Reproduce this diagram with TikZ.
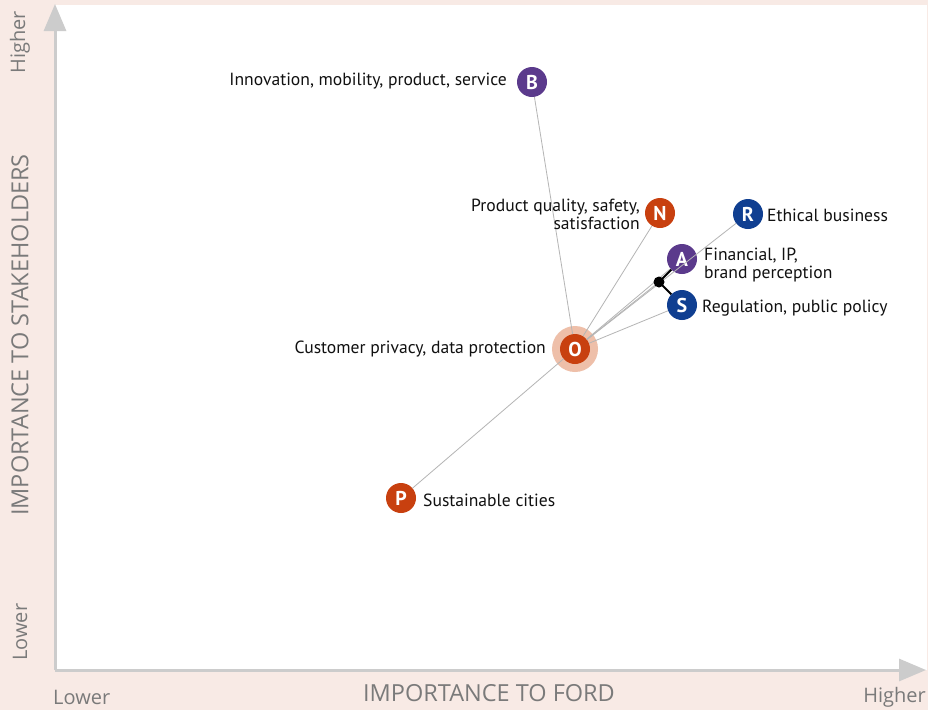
\documentclass[tikz,border=0pt]{standalone}
\usepackage{fontspec}
\setmainfont{PT Sans}
\newfontfamily\axisfont{Open Sans}
\usetikzlibrary{arrows.meta}
\definecolor{bgpink}{HTML}{F8EAE5}
\definecolor{axisgray}{HTML}{CCCCCC}
\definecolor{linegray}{HTML}{B5B5B5}
\definecolor{fpurple}{HTML}{5B3A8C}
\definecolor{fblue}{HTML}{103F91}
\definecolor{forange}{HTML}{C8400F}
\definecolor{fhalo}{HTML}{EEBFA9}
\definecolor{axtext}{HTML}{7A7A7A}
\definecolor{lbltext}{HTML}{111111}
\tikzset{
  dot/.style={circle,minimum size=30pt,inner sep=0pt,text=white,font=\fontsize{20}{20}\selectfont\bfseries},
  pdot/.style={dot,fill=fpurple},
  bdot/.style={dot,fill=fblue},
  odot/.style={dot,fill=forange},
  lbl/.style={text=lbltext,font=\fontsize{17.6}{18}\selectfont,inner sep=0pt},
  axlbl/.style={text=axtext,font=\axisfont\fontsize{20}{20}\selectfont,inner sep=0pt},
  axtitle/.style={text=axtext,font=\axisfont\fontsize{23.5}{24}\selectfont,inner sep=0pt},
  axline/.style={draw=axisgray,line width=3pt,-{Triangle[width=22pt,length=27pt]}},
  conn/.style={draw=linegray,line width=0.8pt},
  jconn/.style={draw=black,line width=1.8pt}
}
\begin{document}
\begin{tikzpicture}[x=1pt,y=-1pt]
\fill[bgpink] (0,0) rectangle (928,710);
\fill[white] (55,5) rectangle (927,670);
\useasboundingbox (0,0) rectangle (928,710);
% axes
\coordinate (orig) at (55,670);
\coordinate (ytip) at (55,4);
\coordinate (xtip) at (926,670);
\draw[axline] (orig) -- (ytip);
\draw[axline] (orig) -- (xtip);
% axis labels
\node[axtitle] (xtitle) at (489,693) {IMPORTANCE TO FORD};
\node[axlbl,anchor=west] (xlow) at (53,697) {Lower};
\node[axlbl,anchor=east] (xhigh) at (926,697) {Higher};
\node[axtitle,rotate=90] (ytitle) at (20,335) {IMPORTANCE TO STAKEHOLDERS};
\node[axlbl,rotate=90,anchor=east] (yhigh) at (20,11) {Higher};
\node[axlbl,rotate=90,anchor=west] (ylow) at (20,661) {Lower};
% halo
\fill[fhalo] (575,349) circle (23);
% nodes
\node[odot] (O) at (575,349) {O};
\node[pdot] (B) at (532,82) {B};
\node[odot] (N) at (660,213) {N};
\node[bdot] (R) at (748,214) {R};
\node[pdot] (A) at (682,259) {A};
\node[bdot] (S) at (682,305) {S};
\node[odot] (P) at (401,498) {P};
\coordinate (J) at (659,282);
% connectors
\draw[conn] (O) -- (B);
\draw[conn] (O) -- (N);
\draw[conn] (O) -- (R);
\draw[conn] (O) -- (A);
\draw[conn] (O) -- (J);
\draw[conn] (O) -- (S);
\draw[conn] (O) -- (P);
\draw[jconn] (J) -- (A);
\draw[jconn] (J) -- (S);
\fill[black] (J) circle (5.5);
% labels
\node[lbl,anchor=east] (lB) at (507,81.5) {Innovation, mobility, product, service};
\node[lbl,anchor=east,align=right] (lN) at (640,214) {Product quality, safety,\\satisfaction};
\node[lbl,anchor=west] (lR) at (767,215) {Ethical business};
\node[lbl,anchor=west,align=left] (lA) at (704,265) {Financial, IP,\\brand perception};
\node[lbl,anchor=west] (lS) at (702,308) {Regulation, public policy};
\node[lbl,anchor=east] (lO) at (546,349) {Customer privacy, data protection};
\node[lbl,anchor=west] (lP) at (423,500) {Sustainable cities};
\end{tikzpicture}
\end{document}
